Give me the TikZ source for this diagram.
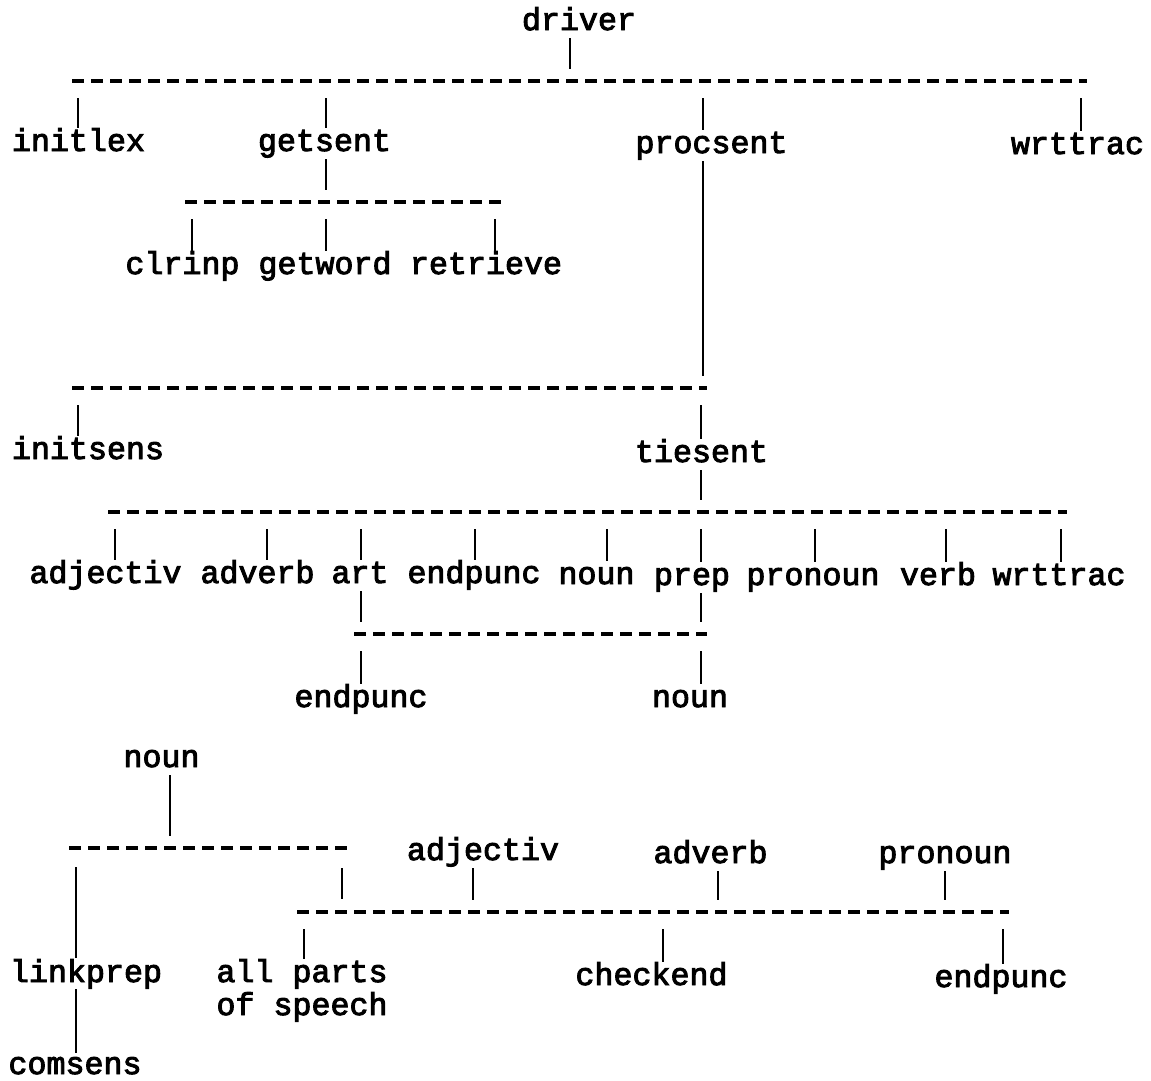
\documentclass[tikz,border=0pt]{standalone}
\usepackage{fontspec}
\newfontfamily\twfont[FakeBold=3]{Liberation Mono}
\usetikzlibrary{calc}
\begin{document}
\begin{tikzpicture}[x=1pt,y=-1pt,
  lbl/.style={anchor=base,inner sep=0pt,font=\twfont\fontsize{31.67}{33}\selectfont},
  bar/.style={line width=2.3pt},
  bus/.style={line width=3.2pt,dash pattern=on 12pt off 7pt},
  % from a bus junction down to a child label
  tochild/.style={to path={($(\tikztostart)+(0,17)$) -- ($(\tikztostart |- \tikztotarget.base)+(0,-23)$)}},
  % from a parent label down to its bus junction
  fromparent/.style={to path={($(\tikztotarget |- \tikztostart.base)+(0,8)$) -- ($(\tikztotarget)+(0,-12)$)}}]
\fill[white] (0,0) rectangle (1151,1080);
\useasboundingbox (0,0) rectangle (1151,1080);

% ---------- labels ----------
\node[lbl] (driver)   at (579,30)    {driver};
\node[lbl] (initlex)  at (78.5,151)  {initlex};
\node[lbl] (getsent)  at (324.5,151) {getsent};
\node[lbl] (procsent) at (711.5,153) {procsent};
\node[lbl] (wrttracA) at (1077.5,154) {wrttrac};
\node[lbl] (clrinp)   at (182.5,274) {clrinp};
\node[lbl] (getword)  at (325,274)   {getword};
\node[lbl] (retrieve) at (486,274)   {retrieve};
\node[lbl] (initsens) at (88,459)    {initsens};
\node[lbl] (tiesent)  at (701.5,462) {tiesent};
\node[lbl] (adjectivA) at (105.5,583) {adjectiv};
\node[lbl] (adverbA)  at (257.5,583) {adverb};
\node[lbl] (art)      at (360,583)   {art};
\node[lbl] (endpuncA) at (474,583)   {endpunc};
\node[lbl] (nounA)    at (596.5,584) {noun};
\node[lbl] (prep)     at (692,585)   {prep};
\node[lbl] (pronounA) at (813,585)   {pronoun};
\node[lbl] (verb)     at (938,585)   {verb};
\node[lbl] (wrttracB) at (1059,585)  {wrttrac};
\node[lbl] (endpuncB) at (361,707)   {endpunc};
\node[lbl] (nounB)    at (690,707)   {noun};
\node[lbl] (nounC)    at (161.5,767) {noun};
\node[lbl] (adjectivB) at (483,860)  {adjectiv};
\node[lbl] (adverbB)  at (710.5,863) {adverb};
\node[lbl] (pronounB) at (945,863)   {pronoun};
\node[lbl] (linkprep) at (86,982)    {linkprep};
\node[lbl] (allparts) at (302,982)   {\begin{tabular}[t]{@{}l@{}}all parts\\of speech\end{tabular}};
\node[lbl] (checkend) at (651.5,985) {checkend};
\node[lbl] (endpuncC) at (1001,987)  {endpunc};
\node[lbl] (comsens)  at (75,1074)   {comsens};

% ---------- bus lines ----------
\coordinate (b1w) at (72,81);   \coordinate (b1e) at (1087,81);
\coordinate (b2w) at (185,202); \coordinate (b2e) at (501,202);
\coordinate (b3w) at (72,388);  \coordinate (b3e) at (707,388);
\coordinate (b4w) at (108,512); \coordinate (b4e) at (1067,512);
\coordinate (b5w) at (354,634); \coordinate (b5e) at (707,634);
\coordinate (b6w) at (69,848);  \coordinate (b6e) at (348,848);
\coordinate (b7w) at (297,912); \coordinate (b7e) at (1009,912);
\foreach \b in {1,...,7} \draw[bus] (b\b w) -- (b\b e);

% ---------- junctions ----------
\coordinate (j-driver)   at (570,81);
\coordinate (j-initlex)  at (78,81);
\coordinate (j-getsent)  at (326,81);
\coordinate (j-procsent) at (703,81);
\coordinate (j-wrttracA) at (1081,81);
\coordinate (k-getsent)  at (326,202);
\coordinate (k-clrinp)   at (192,202);
\coordinate (k-getword)  at (326,202);
\coordinate (k-retrieve) at (495,202);
\coordinate (m-procsent) at (703,388);
\coordinate (m-initsens) at (78,388);
\coordinate (m-tiesent)  at (701,388);
\coordinate (n-tiesent)  at (701,512);
\coordinate (n-adjectivA) at (115,512);
\coordinate (n-adverbA)  at (267,512);
\coordinate (n-art)      at (361,512);
\coordinate (n-endpuncA) at (475,512);
\coordinate (n-nounA)    at (607,512);
\coordinate (n-prep)     at (701,512);
\coordinate (n-pronounA) at (815,512);
\coordinate (n-verb)     at (946,512);
\coordinate (n-wrttracB) at (1061,512);
\coordinate (p-art)      at (361,634);
\coordinate (p-prep)     at (701,634);
\coordinate (p-endpuncB) at (361,634);
\coordinate (p-nounB)    at (701,634);
\coordinate (q-nounC)    at (170,848);
\coordinate (q-linkprep) at (76,848);
\coordinate (q-link)     at (342,848);
\coordinate (r-link)     at (342,912);
\coordinate (r-adjectivB) at (473,912);
\coordinate (r-adverbB)  at (718,912);
\coordinate (r-pronounB) at (945,912);
\coordinate (r-allparts) at (304,912);
\coordinate (r-checkend) at (663,912);
\coordinate (r-endpuncC) at (1003,912);
\coordinate (lc) at (76,1020);

% ---------- connectors ----------
\draw[bar] (driver) to[fromparent] (j-driver);
\draw[bar] (j-initlex)  to[tochild] (initlex);
\draw[bar] (j-getsent)  to[tochild] (getsent);
\draw[bar] (j-procsent) to[tochild] (procsent);
\draw[bar] (j-wrttracA) to[tochild] (wrttracA);

\draw[bar] (getsent) to[fromparent] (k-getsent);
\draw[bar] (k-clrinp)   to[tochild] (clrinp);
\draw[bar] (k-getword)  to[tochild] (getword);
\draw[bar] (k-retrieve) to[tochild] (retrieve);

\draw[bar] (procsent) to[fromparent] (m-procsent);
\draw[bar] (m-initsens) to[tochild] (initsens);
\draw[bar] (m-tiesent)  to[tochild] (tiesent);

\draw[bar] (tiesent) to[fromparent] (n-tiesent);
\foreach \c in {adjectivA,adverbA,art,endpuncA,nounA,prep,pronounA,verb,wrttracB}
  \draw[bar] (n-\c) to[tochild] (\c);

\draw[bar] (art)  to[fromparent] (p-art);
\draw[bar] (prep) to[fromparent] (p-prep);
\draw[bar] (p-endpuncB) to[tochild] (endpuncB);
\draw[bar] (p-nounB)    to[tochild] (nounB);

\draw[bar] (nounC) to[fromparent] (q-nounC);
\draw[bar] ($(q-linkprep)+(0,19)$) -- ($(q-linkprep |- linkprep.base)+(0,-24)$);
\draw[bar] ($(q-link)+(0,20)$) -- ($(r-link)+(0,-13)$);
\draw[bar] (adjectivB) to[fromparent] (r-adjectivB);
\draw[bar] (adverbB)   to[fromparent] (r-adverbB);
\draw[bar] (pronounB)  to[fromparent] (r-pronounB);
\draw[bar] (r-allparts) to[tochild] (allparts);
\draw[bar] (r-checkend) to[tochild] (checkend);
\draw[bar] (r-endpuncC) to[tochild] (endpuncC);
\draw[bar] ($(lc |- linkprep.base)+(0,7)$) -- ($(lc |- comsens.base)+(0,-21)$);
\end{tikzpicture}
\end{document}
